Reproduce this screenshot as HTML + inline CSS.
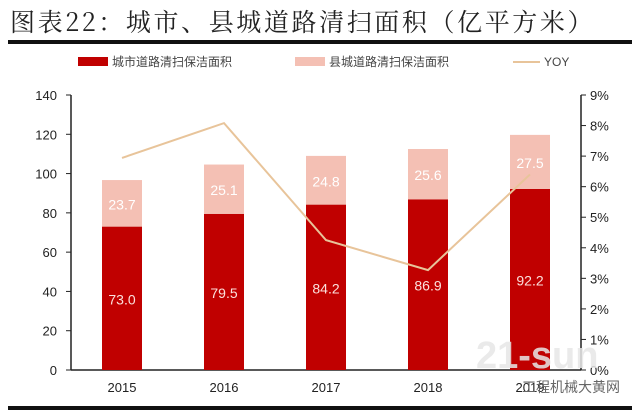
<!DOCTYPE html>
<html><head><meta charset="utf-8"><style>
body{margin:0;background:#fff;width:640px;height:414px;overflow:hidden;font-family:"Liberation Sans","Noto Sans CJK SC",sans-serif}
</style></head><body>
<svg width="640" height="414" xmlns="http://www.w3.org/2000/svg">
<text x="10" y="31" font-size="25" letter-spacing="2.6" fill="#222" font-family="'Noto Serif CJK SC','Noto Sans CJK SC',serif">图表22：城市、县城道路清扫面积（亿平方米）</text>
<rect x="8" y="40" width="624" height="4" fill="#111"/>
<g font-size="12" fill="#444" font-family="'Noto Sans CJK SC',sans-serif">
<rect x="78" y="57" width="30" height="9" fill="#c00000"/>
<text x="112" y="66">城市道路清扫保洁面积</text>
<rect x="295" y="57" width="30" height="9" fill="#f4c0b4"/>
<text x="329" y="66">县城道路清扫保洁面积</text>
<line x1="513" y1="62" x2="540" y2="62" stroke="#e8c49a" stroke-width="2"/>
<text x="544" y="66" font-family="'Liberation Sans',sans-serif">YOY</text>
</g>
<g id="plot"></g>
<text x="476" y="368" font-size="38" font-weight="bold" fill="#e6e6e6" fill-opacity="0.85">21-sun</text>
<text x="522" y="392" font-size="14" fill="#666">工程机械大黄网</text>
<rect x="8" y="406" width="624" height="4" fill="#111"/>
</svg>
<script>
const years=["2015","2016","2017","2018","2019"];
const urban=[73.0,79.5,84.2,86.9,92.2];
const county=[23.7,25.1,24.8,25.6,27.5];
const yoy=[6.94,8.08,4.25,3.27,6.4];
const leftTicks=[0,20,40,60,80,100,120,140];
const rightTicks=[0,1,2,3,4,5,6,7,8,9];
const L=71,R=581,T=95,B=370;
const ns="http://www.w3.org/2000/svg";
const g=document.getElementById('plot');
const yL=v=>B-(v/140)*(B-T);
const yR=v=>B-(v/9)*(B-T);
const bw=(R-L)/years.length;
const xc=i=>L+bw*(i+0.5);
function mk(t,a,txt){const e=document.createElementNS(ns,t);for(const k in a)e.setAttribute(k,a[k]);if(txt!==undefined)e.textContent=txt;g.appendChild(e);return e;}
let e;
e=mk('line',{x1:L,y1:T,x2:L,y2:B,stroke:'#222','stroke-width':1.5});


e=mk('line',{x1:R,y1:T,x2:R,y2:B,stroke:'#222','stroke-width':1.5});


e=mk('line',{x1:L,y1:B,x2:R,y2:B,stroke:'#222','stroke-width':1.5});


leftTicks.forEach(v=>{
 mk('line',{x1:L-5,y1:yL(v),x2:L,y2:yL(v),stroke:'#222'});
 e=mk('text',{x:L-14,y:yL(v)+5,'text-anchor':'end','font-size':13,fill:'#222'},v);
 
 
});
rightTicks.forEach(v=>{
 mk('line',{x1:R,y1:yR(v),x2:R+5,y2:yR(v),stroke:'#222'});
 e=mk('text',{x:R+9,y:yR(v)+5,'font-size':13,fill:'#222'},v+'%');
 
 
});
years.forEach((y,i)=>{
 const x=xc(i)-20;
 e=mk('rect',{x:x,y:yL(urban[i]),width:40,height:B-yL(urban[i]),fill:'#c00000'});
 
 
 e=mk('rect',{x:x,y:yL(urban[i]+county[i]),width:40,height:yL(urban[i])-yL(urban[i]+county[i]),fill:'#f4c0b4'});
 
 
 e=mk('text',{x:xc(i),y:yL(urban[i]/2)+6,'text-anchor':'middle','font-size':14,fill:'#fbe0dc'},urban[i].toFixed(1));
 
 
 e=mk('text',{x:xc(i),y:yL(urban[i]+county[i]/2)+6,'text-anchor':'middle','font-size':14,fill:'#fff'},county[i].toFixed(1));
 
 
 e=mk('text',{x:xc(i),y:B+22,'text-anchor':'middle','font-size':13,fill:'#222'},y);
 
 
});
e=mk('polyline',{points:yoy.map((v,i)=>xc(i)+','+yR(v)).join(' '),fill:'none',stroke:'#e8c49a','stroke-width':2});


</script>
</body></html>
